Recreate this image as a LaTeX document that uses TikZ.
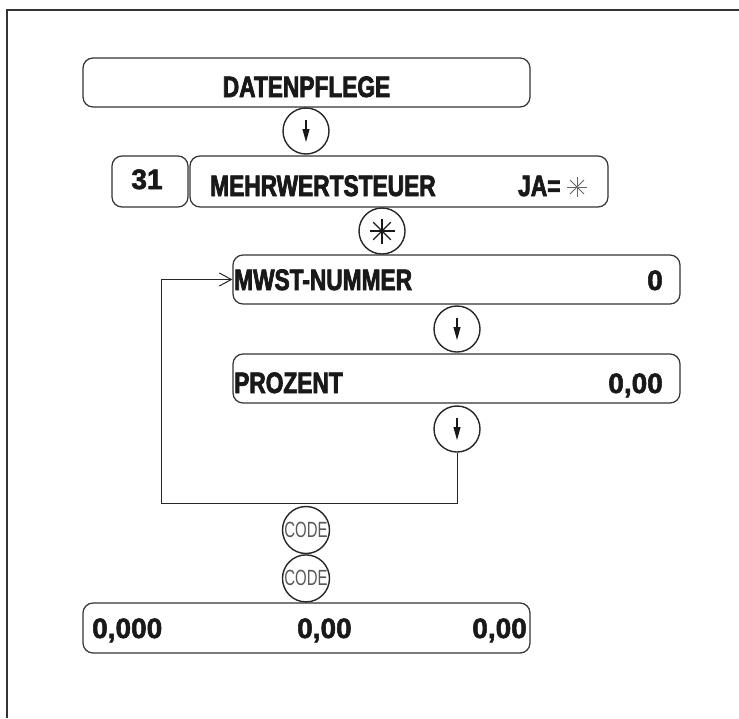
\documentclass[tikz,border=0pt]{standalone}
\usepackage{fontspec}
\usepackage{tikz}
\usetikzlibrary{arrows.meta, positioning}
\newfontfamily\wordfont[FakeStretch=0.77, BoldFeatures={FakeBold=2.5}]{Liberation Sans}
\newfontfamily\numfont[BoldFeatures={FakeBold=2}]{Liberation Sans}
\newfontfamily\codefont[FakeStretch=0.68]{Liberation Sans}
\tikzstyle{panelbox} = [
    rectangle, draw=black!80, line width=1.2pt,
    rounded corners=10pt, inner sep=0pt
]
\tikzstyle{keycircle} = [
    circle, draw=black!85, line width=1.4pt,
    minimum size=46pt, inner sep=0pt,
    font=\codefont\fontsize{22}{23}\selectfont, text=black!65
]
\tikzstyle{wordlabel} = [inner sep=0pt, text=black!90,
    font=\wordfont\bfseries\fontsize{29.5}{32}\selectfont]
\tikzstyle{numlabel} = [inner sep=0pt, text=black!90,
    font=\numfont\bfseries\fontsize{28}{30}\selectfont]
\tikzstyle{keyarrow} = [line width=1.1pt, draw=black!90, -{Triangle[length=13pt,width=7pt]}]
\tikzstyle{arrow} = [line width=1pt, draw=black!85, -{Straight Barb[length=12pt,width=13pt]}]

\begin{document}
\begin{tikzpicture}[x=1pt, y=-1pt]
    \useasboundingbox (0,0) rectangle (739,718);
    % page frame
    \draw[line width=1.8pt, black!80] (7,718) -- (7,10) -- (739,10);

    \node [panelbox, minimum width=447pt, minimum height=49pt] (datenpflege) at (306.5,82.5) {};
    \node [wordlabel, anchor=base] (datenpflegetext) at (306.5,97) {DATENPFLEGE};
    \node [keycircle] (keyone) at (306,131) {};
    \draw [keyarrow] ([yshift=11pt]keyone.center) -- ([yshift=-11pt]keyone.center);

    \node [panelbox, minimum width=76pt, minimum height=51pt] (number) at (150,181.5) {};
    \node [numlabel, anchor=base] (numbertext) at (147,189) {31};
    \node [panelbox, minimum width=418pt, minimum height=51pt] (mwst) at (399,181.5) {};
    \node [wordlabel, anchor=base west] (mwsttext) at (210,196) {MEHRWERTSTEUER};
    \node [wordlabel, anchor=base west] (jatext) at (518,196) {JA=};
    \coordinate (jastar) at (577,187);
    \foreach \a in {0,45,90,135}
        \draw [line width=0.8pt, black!60] (jastar) +(\a:10) -- +(\a+180:10);

    \node [keycircle] (starkey) at (382,231) {};
    \foreach \a in {0,45,90,135}
        \draw [line width=1.3pt, black!90] (starkey.center) +(\a:12.5) -- +(\a+180:12.5);

    \node [panelbox, minimum width=447pt, minimum height=49pt] (nummer) at (456.5,279.5) {};
    \node [wordlabel, anchor=base west] (nummertext) at (234,290) {MWST-NUMMER};
    \node [numlabel, anchor=base east] (nummerwert) at (663,290) {0};
    \node [keycircle] (keythree) at (457,329) {};
    \draw [keyarrow] ([yshift=11pt]keythree.center) -- ([yshift=-11pt]keythree.center);

    \node [panelbox, minimum width=447pt, minimum height=49pt] (prozent) at (456.5,378.5) {};
    \node [wordlabel, anchor=base west] (prozenttext) at (234,393) {PROZENT};
    \node [numlabel, anchor=base east] (prozentwert) at (663,393) {0,00};
    \node [keycircle] (keyfour) at (457,429) {};
    \draw [keyarrow] ([yshift=11pt]keyfour.center) -- ([yshift=-11pt]keyfour.center);

    % loop back to MWST-NUMMER
    \coordinate (loopcorner) at (161,503);
    \draw [arrow] (keyfour.south) -- (keyfour.south |- loopcorner) -- (loopcorner) |- (nummer.west);

    \node [keycircle, minimum size=47pt] (codeone) at (306,530) {CODE};
    \node [keycircle, minimum size=47pt, below=0pt of codeone] (codetwo) {CODE};

    \node [panelbox, minimum width=447pt, minimum height=50pt] (result) at (306.5,628) {};
    \node [numlabel, anchor=base west] (resultone) at (92,638) {0,000};
    \node [numlabel, anchor=base west] (resulttwo) at (297,638) {0,00};
    \node [numlabel, anchor=base east] (resultthree) at (527,638) {0,00};
\end{tikzpicture}
\end{document}
